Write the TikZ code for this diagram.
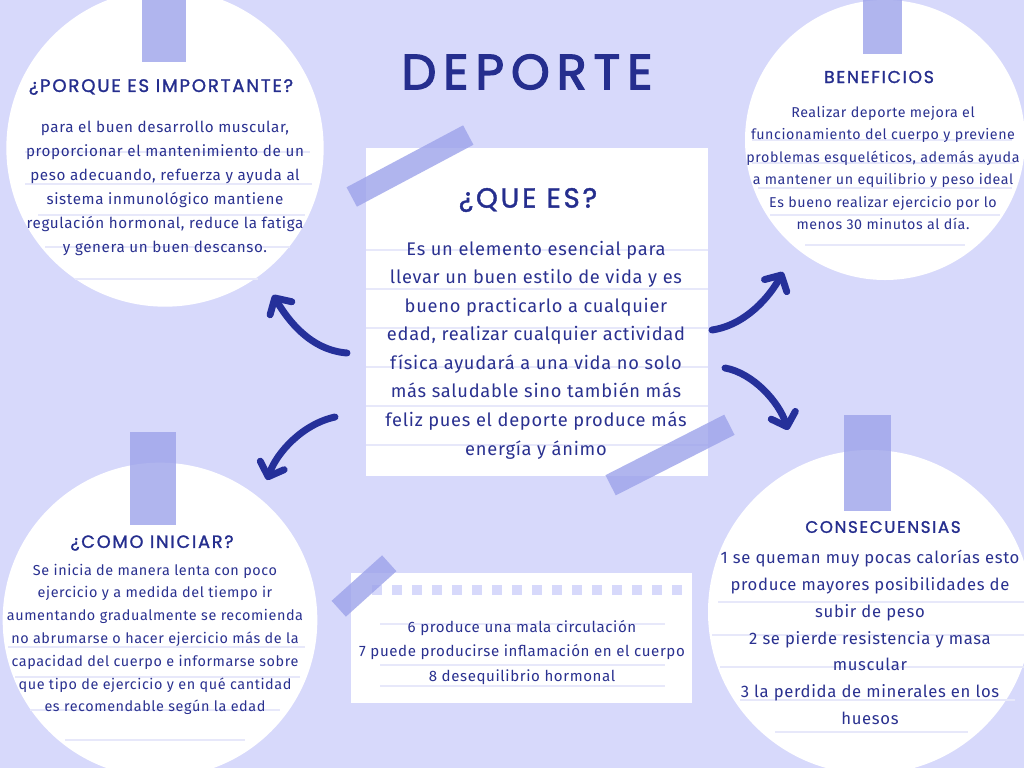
\documentclass[tikz,border=0pt]{standalone}
\usepackage{fontspec}
\setmainfont{Fira Sans}[LetterSpace=4]
\newfontfamily\headfont[LetterSpace=10,FakeBold=1.4]{Poppins}
\newfontfamily\titlefont[LetterSpace=14,FakeBold=2.6]{Poppins}
\usetikzlibrary{arrows.meta}
\definecolor{bg}{HTML}{D7D9FB}
\definecolor{ink}{HTML}{2A3190}
\definecolor{headc}{HTML}{252E8E}
\definecolor{tapec}{HTML}{9DA3EA}
\definecolor{rulec}{HTML}{E7E8FA}
\definecolor{arrowc}{HTML}{25309A}
\tikzset{
  paper/.style={fill=white, draw=none, inner sep=0pt},
  disc/.style={circle, fill=white, draw=none, inner sep=0pt},
  tapestrip/.style={fill=tapec, opacity=0.8, draw=none, inner sep=0pt},
  ruleline/.style={draw=rulec, line width=0.8pt},
  head/.style={text=headc, inner sep=0pt},
  body/.style={text=ink, align=center, inner sep=0pt},
  curvearrow/.style={draw=arrowc, line width=5.2pt, line cap=round,
    -{Straight Barb[length=9pt,width=19pt,round]}},
  hole/.style={fill=bg, draw=none, minimum width=7.5pt, minimum height=7.5pt, inner sep=0pt}
}
\begin{document}
\begin{tikzpicture}[x=0.75pt,y=-0.75pt]
\fill[bg] (0,0) rectangle (1024,768);
\useasboundingbox (0,0) rectangle (1024,768);

% circles
\node[disc, minimum size=238pt] (c1) at (165,148) {};
\node[disc, minimum size=210pt] (c2) at (885,140) {};
\node[disc, minimum size=236pt] (c3) at (160,620) {};
\node[disc, minimum size=243pt] (c4) at (870,612) {};

% notes
\node[paper, minimum width=256.5pt, minimum height=246pt] (note) at (537,312) {};
\node[paper, minimum width=255.75pt, minimum height=97.5pt] (note2) at (521.5,638) {};

% ruled lines
\foreach \yy/\xa/\xb in {152/25/310, 184/25/312, 215/38/305, 247/45/290, 279/75/258}
  \draw[ruleline] (\xa,\yy) -- (\xb,\yy);
\foreach \yy/\xa/\xb in {140/752/1012, 163/752/1015, 188/758/1012, 215/770/1000, 245/805/965}
  \draw[ruleline] (\xa,\yy) -- (\xb,\yy);
\foreach \yy/\xa/\xb in {647/8/305, 677/15/300, 710/30/280, 740/65/245}
  \draw[ruleline] (\xa,\yy) -- (\xb,\yy);
\foreach \yy/\xa/\xb in {602/718/1024, 635/712/1024, 667/720/1024, 700/740/1015, 732/775/968}
  \draw[ruleline] (\xa,\yy) -- (\xb,\yy);
\foreach \yy in {250,289,328,367,406,445}
  \draw[ruleline] (366,\yy) -- (708,\yy);
\foreach \yy in {624,665,686}
  \draw[ruleline] (380,\yy) -- (665,\yy);

% holes on bottom note
\foreach \i in {0,...,15}
  \node[hole] (h\i) at (377+20*\i,590) {};

% tapes
\fill[tapestrip] (142,-5) rectangle (186,62);
\fill[tapestrip] (863,-5) rectangle (902,54);
\fill[tapestrip] (130,432) rectangle (176,525);
\fill[tapestrip] (844,415) rectangle (891,511);
\node[tapestrip, minimum width=99pt, minimum height=16.5pt, rotate=28] (tp1) at (410,166) {};
\node[tapestrip, minimum width=100pt, minimum height=17pt, rotate=27] (tp2) at (670,455) {};
\node[tapestrip, minimum width=51pt, minimum height=16pt, rotate=42] (tp3) at (364,586) {};

% title
\node[head, font=\titlefont\fontsize{37}{40}\selectfont] (title) at (527,72) {DEPORTE};

% headings
\node[head, font=\headfont\fontsize{13.6}{15}\selectfont] (h1) at (161,87) {¿PORQUE ES IMPORTANTE?};
\node[head, font=\headfont\fontsize{12.9}{14}\selectfont] (h2) at (879,77) {BENEFICIOS};
\node[head, font=\headfont\fontsize{20.8}{22}\selectfont] (h0) at (528,200) {¿QUE ES?};
\node[head, font=\headfont\fontsize{13.3}{14}\selectfont] (h3) at (152,543) {¿COMO INICIAR?};
\node[head, font=\headfont\fontsize{12.5}{14}\selectfont] (h4) at (883,527) {CONSECUENSIAS};

% bodies
\node[body, font=\fontsize{11.4}{18}\selectfont] (b1) at (165,188) {para el buen desarrollo muscular,\\proporcionar el mantenimiento de un\\peso adecuando, refuerza y ayuda al\\sistema inmunológico mantiene\\regulación hormonal, reduce la fatiga\\y genera un buen descanso.};
\node[body, font=\fontsize{10.7}{16.8}\selectfont] (b2) at (883,168) {Realizar deporte mejora el\\funcionamiento del cuerpo y previene\\problemas esqueléticos, además ayuda\\a mantener un equilibrio y peso ideal\\Es bueno realizar ejercicio por lo\\menos 30 minutos al día.};
\node[body, font=\fontsize{13.7}{21.4}\selectfont] (b0) at (536,350) {Es un elemento esencial para\\llevar un buen estilo de vida y es\\bueno practicarlo a cualquier\\edad, realizar cualquier actividad\\física ayudará a una vida no solo\\más saludable sino también más\\feliz pues el deporte produce más\\energía y ánimo};
\node[body, font=\fontsize{10.8}{17.1}\selectfont] (b3) at (155,639.5) {Se inicia de manera lenta con poco\\ejercicio y a medida del tiempo ir\\aumentando gradualmente se recomienda\\no abrumarse o hacer ejercicio más de la\\capacidad del cuerpo e informarse sobre\\que tipo de ejercicio y en qué cantidad\\es recomendable según la edad};
\node[body, font=\fontsize{12.5}{20.1}\selectfont] (b4) at (870,637.5) {1 se queman muy pocas calorías esto\\produce mayores posibilidades de\\subir de peso\\2 se pierde resistencia y masa\\muscular\\3 la perdida de minerales en los\\huesos};
\node[body, font=\fontsize{11.3}{18.4}\selectfont] (b5) at (522,652.5) {6 produce una mala circulación\\7 puede producirse inflamación en el cuerpo\\8 desequilibrio hormonal};

% arrows
\coordinate (a1s) at (347,353); \coordinate (a1e) at (273,295);
\coordinate (a2s) at (335,417); \coordinate (a2e) at (267,480);
\coordinate (a3s) at (712,330); \coordinate (a3e) at (783,272);
\coordinate (a4s) at (725,368); \coordinate (a4e) at (788,430);
\draw[curvearrow] (a1s) .. controls (310,350) and (288,320) .. (a1e);
\draw[curvearrow] (a2s) .. controls (303,424) and (277,452) .. (a2e);
\draw[curvearrow] (a3s) .. controls (746,325) and (770,296) .. (a3e);
\draw[curvearrow] (a4s) .. controls (753,373) and (779,402) .. (a4e);
\end{tikzpicture}
\end{document}
